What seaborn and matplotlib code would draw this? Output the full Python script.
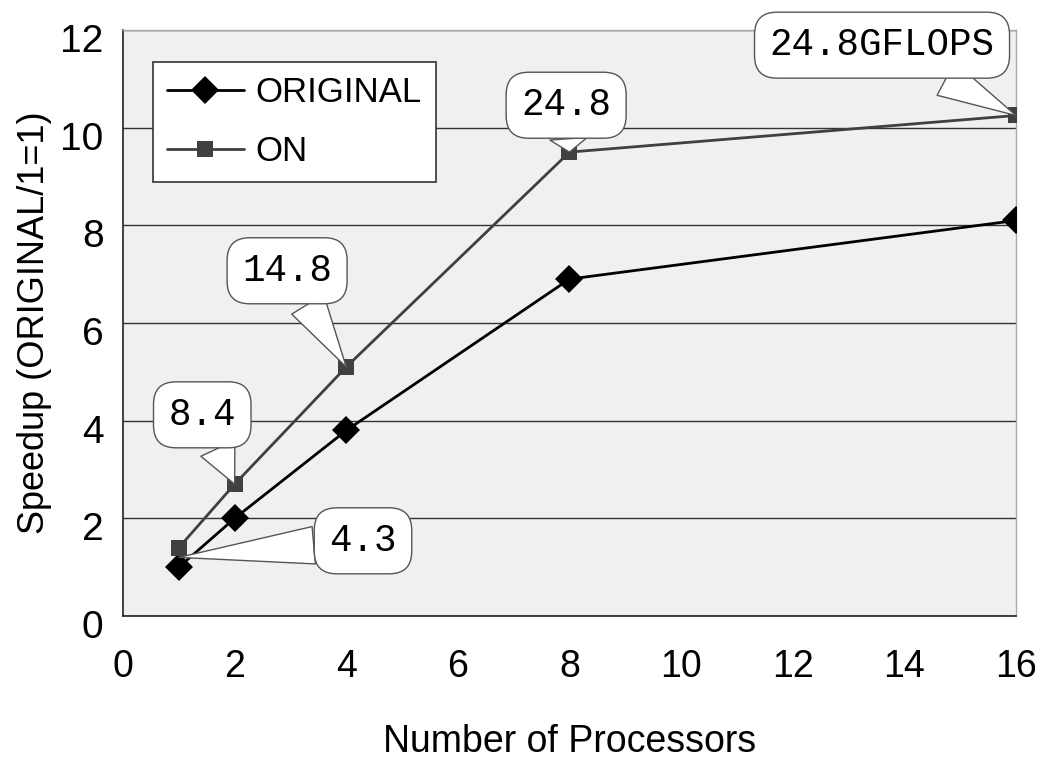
import matplotlib
matplotlib.use("Agg")
import matplotlib.pyplot as plt
import matplotlib.transforms as mtransforms
import pandas as pd
import seaborn as sns

# data
processors = [1, 2, 4, 8, 16]
speedup_original = [1.0, 2.0, 3.8, 6.9, 8.1]
speedup_on = [1.4, 2.7, 5.1, 9.5, 10.25]
series_names = ["ORIGINAL", "ON"]

# callout labels: text, index of the ON point it refers to, text centre (data units)
callout_text = ["4.3", "8.4", "14.8", "24.8", "24.8GFLOPS"]
callout_idx = [0, 1, 2, 3, 4]
callout_pos = [(4.3, 1.54), (1.42, 4.12), (2.94, 7.07), (7.94, 10.46), (13.6, 11.69)]

rows = []
for x, y in zip(processors, speedup_original):
    rows.append({"Processors": x, "Speedup": y, "Series": series_names[0]})
for x, y in zip(processors, speedup_on):
    rows.append({"Processors": x, "Speedup": y, "Series": series_names[1]})
df = pd.DataFrame(rows)

sns.set_theme(style="white", rc={"text.color": "black", "axes.labelcolor": "black",
                                 "xtick.color": "black", "ytick.color": "black"})
plt.rcParams["font.family"] = ["Liberation Sans", "DejaVu Sans"]
mono = ["Liberation Mono", "DejaVu Sans Mono"]

fig = plt.figure(figsize=(10.46, 7.66), dpi=100)
ax = fig.add_axes([0.1176, 0.1958, 0.8537, 0.765])
ax.set_facecolor("#f0f0f0")

sns.lineplot(data=df, x="Processors", y="Speedup", hue="Series", style="Series",
             palette={"ORIGINAL": "#000000", "ON": "#404040"},
             markers={"ORIGINAL": "D", "ON": "s"}, dashes=False,
             markersize=14, linewidth=2, markeredgewidth=0, ax=ax, zorder=3)
for line in ax.lines:
    if line.get_marker() == "s":
        line.set_markersize(11)

ax.set_xlim(0, 16)
ax.set_ylim(0, 12)
ax.set_xticks(range(0, 17, 2))
ax.set_yticks(range(0, 13, 2))
ax.yaxis.grid(True, color="#333333", linewidth=1)
ax.set_axisbelow(True)

ax.tick_params(axis="x", direction="in", length=10, width=1, color="#333333",
               pad=24, labelsize=27)
ax.tick_params(axis="y", direction="in", length=0, pad=14, labelsize=28)
# tick labels on the y axis sit a little below their gridlines in the original
shift = mtransforms.ScaledTranslation(0, -0.08, fig.dpi_scale_trans)
for lab in ax.get_yticklabels():
    lab.set_transform(lab.get_transform() + shift)

for side in ["left", "bottom"]:
    ax.spines[side].set_color("#222222")
    ax.spines[side].set_linewidth(1.2)
for side in ["top", "right"]:
    ax.spines[side].set_color("#aaaaaa")
    ax.spines[side].set_linewidth(1)

ax.set_xlabel("Number of Processors", fontsize=27, labelpad=28)
ax.set_ylabel("Speedup (ORIGINAL/1=1)", fontsize=26, labelpad=6)

leg = ax.legend(loc="upper left", bbox_to_anchor=(0.034, 0.945), borderaxespad=0,
                frameon=True, fancybox=False, edgecolor="#333333", framealpha=1,
                prop={"size": 25}, handlelength=2.2, borderpad=0.4,
                labelspacing=0.75, handletextpad=0.35)
leg.get_frame().set_linewidth(1.2)

for txt, i, (tx, ty) in zip(callout_text, callout_idx, callout_pos):
    if i == 0:
        target = (processors[0], (speedup_original[0] + speedup_on[0]) / 2)
    else:
        target = (processors[i], speedup_on[i])
    ax.annotate(txt, xy=target, xytext=(tx, ty), textcoords="data",
                ha="center", va="center", fontsize=27, family=mono, zorder=5,
                annotation_clip=False,
                bbox=dict(boxstyle="round,pad=0.4,rounding_size=0.6",
                          fc="white", ec="#555555", lw=1),
                arrowprops=dict(arrowstyle="wedge,tail_width=1.0,shrink_factor=0.5",
                                fc="white", ec="#555555", lw=1,
                                shrinkA=0, shrinkB=0))

fig.savefig("out.png", dpi=100, facecolor="white")
